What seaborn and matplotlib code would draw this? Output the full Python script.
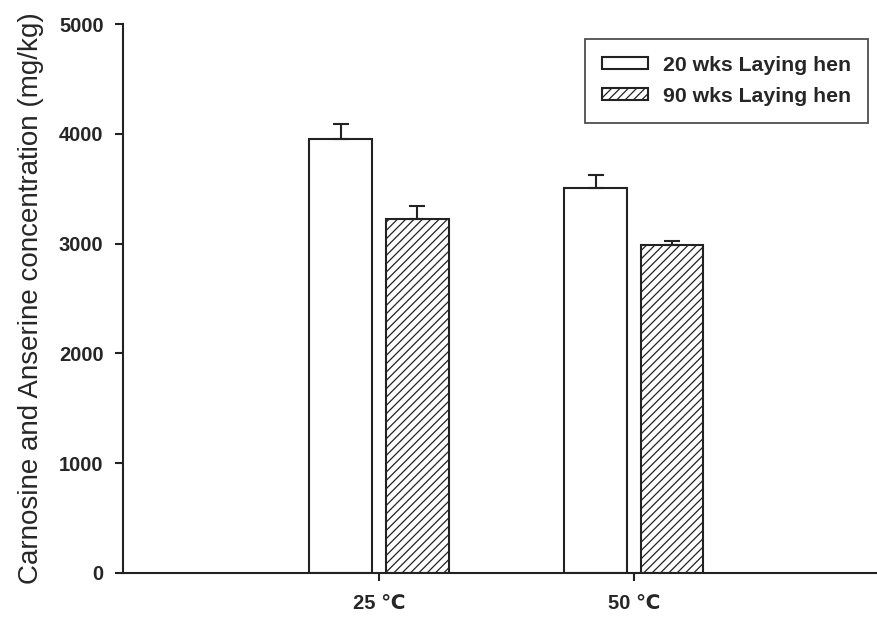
import matplotlib
matplotlib.use("Agg")
import matplotlib.pyplot as plt
import seaborn as sns
import pandas as pd
import numpy as np

categories = ["25 \u2103", "50 \u2103"]
series_names = ["20 wks Laying hen", "90 wks Laying hen"]
values_20 = [3950, 3503]
values_90 = [3227, 2987]
err_20 = [142, 119]
err_90 = [113, 36]

df = pd.DataFrame({
    "cat": categories * 2,
    "group": [series_names[0]] * 2 + [series_names[1]] * 2,
    "val": values_20 + values_90,
})
errs = {(categories[i], series_names[0]): err_20[i] for i in range(2)}
errs.update({(categories[i], series_names[1]): err_90[i] for i in range(2)})

sns.set_style("white")
plt.rcParams["font.family"] = ["Liberation Sans", "DejaVu Sans"]
plt.rcParams["hatch.linewidth"] = 0.9
plt.rcParams["hatch.color"] = "#222222"

fig = plt.figure(figsize=(8.77, 6.21), dpi=100)
ax = fig.add_axes([123 / 877, 1 - 573 / 621, (876 - 123) / 877, (573 - 24) / 621])

sns.barplot(data=df, x="cat", y="val", hue="group", order=categories,
            hue_order=series_names, palette=["white", "white"],
            width=0.6, gap=0.18, errorbar=None, edgecolor="#222222",
            linewidth=1.5, ax=ax, legend=True)

hatches = ["", "////"]
bar_containers = list(ax.containers)
for ci, cont in enumerate(bar_containers):
    for bi, p in enumerate(cont.patches):
        p.set_hatch(hatches[ci])
        p.set_edgecolor("#222222")
        x = p.get_x() + p.get_width() / 2
        h = p.get_height()
        e = errs[(categories[bi], series_names[ci])]
        ax.errorbar([x], [h], yerr=[[0], [e]], fmt="none", ecolor="#222222",
                    elinewidth=1.5, capsize=6, capthick=1.5, zorder=3)

ax.set_ylim(0, 5000)
ax.set_xlim(-1.004, 1.95)
ax.set_yticks([0, 1000, 2000, 3000, 4000, 5000])
ax.set_xlabel("")
ax.set_ylabel("Carnosine and Anserine concentration (mg/kg)", fontsize=20, labelpad=11)
for s in ["top", "right"]:
    ax.spines[s].set_visible(False)
for s in ["left", "bottom"]:
    ax.spines[s].set_color("#222222")
    ax.spines[s].set_linewidth(1.5)
ax.tick_params(axis="both", direction="out", length=6, width=1.5, color="#222222",
               labelsize=14.5, left=True, bottom=True)
ax.tick_params(axis="y", pad=8)
ax.tick_params(axis="x", pad=9)
for lbl in ax.get_xticklabels() + ax.get_yticklabels():
    lbl.set_fontweight("bold")

handles, labels = ax.get_legend_handles_labels()
for h, hp in zip(handles, hatches):
    h.set_hatch(hp)
    h.set_edgecolor("#222222")
leg = ax.legend(handles, labels, loc="upper right", bbox_to_anchor=(0.989, 0.973),
                borderaxespad=0, frameon=True, fancybox=False, edgecolor="#222222",
                prop={"weight": "bold", "size": 15.3}, handlelength=2.2,
                handleheight=0.48, handletextpad=0.67, borderpad=0.8,
                labelspacing=0.55)
leg.get_frame().set_linewidth(1.3)

fig.savefig("out.png", dpi=100)
